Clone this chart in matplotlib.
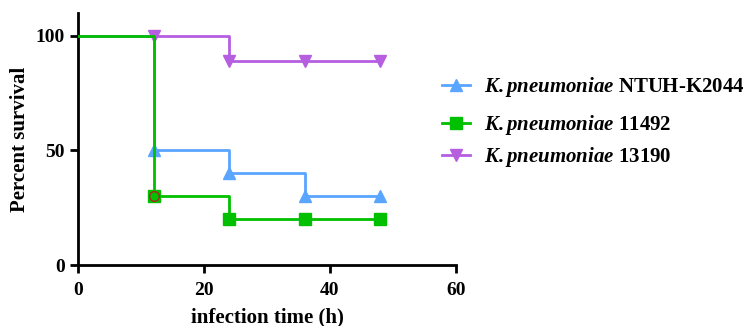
import matplotlib
matplotlib.use("Agg")
import matplotlib.pyplot as plt

plt.rcParams['font.family'] = ['Liberation Serif', 'DejaVu Serif']
plt.rcParams['mathtext.fontset'] = 'custom'
plt.rcParams['mathtext.bfit'] = 'Liberation Serif:italic:bold'
plt.rcParams['mathtext.bf'] = 'Liberation Serif:bold'
plt.rcParams['mathtext.it'] = 'Liberation Serif:italic'
plt.rcParams['mathtext.rm'] = 'Liberation Serif'

time = [0, 12, 24, 36, 48]
ntuh = [100, 50, 40, 30, 30]
s11492 = [100, 30, 20, 20, 20]
s13190 = [100, 100, 88.9, 88.9, 88.9]
labels = [r'$\mathbfit{K.pneumoniae}$ NTUH-K2044',
          r'$\mathbfit{K.pneumoniae}$ 11492',
          r'$\mathbfit{K.pneumoniae}$ 13190']

blue = '#5aa5ff'
green = '#00c000'
purple = '#b65ee0'

fig = plt.figure(figsize=(7.46, 3.26), dpi=100)
ax = fig.add_axes([78/746, 1-265/326, (456-78)/746, (265-13)/326])

ax.step(time, ntuh, where='post', color=blue, lw=2, zorder=2)
ax.plot(time[1:], ntuh[1:], '^', color=blue, ms=8, lw=0, zorder=3)
ax.step(time, s13190, where='post', color=purple, lw=2, zorder=2)
ax.plot(time[1:], s13190[1:], 'v', color=purple, ms=8, lw=0, zorder=3)
ax.step(time, s11492, where='post', color=green, lw=2, zorder=4)
ax.plot(time[1:], s11492[1:], 's', color=green, ms=8, lw=0, zorder=5)
ax.plot([time[1]], [s11492[1]], 'o', mfc=green, mec='#b22222', ms=7, mew=1, zorder=6)

ax.set_xlim(0, 60)
ax.set_ylim(0, 110)
ax.set_xticks([0, 20, 40, 60])
ax.set_yticks([0, 50, 100])
for s in ['top', 'right']:
    ax.spines[s].set_visible(False)
for s in ['left', 'bottom']:
    ax.spines[s].set_linewidth(2)
ax.tick_params(width=2, length=6, labelsize=14)
ax.tick_params(axis='x', pad=6)
for lab in ax.get_xticklabels() + ax.get_yticklabels():
    lab.set_fontweight('bold')
ax.set_xlabel('infection time (h)', fontsize=15, fontweight='bold', labelpad=6)
ax.set_ylabel('Percent survival', fontsize=15, fontweight='bold')

h1, = ax.plot([], [], '-^', color=blue, lw=2, ms=8)
h2, = ax.plot([], [], '-s', color=green, lw=2, ms=8)
h3, = ax.plot([], [], '-v', color=purple, lw=2, ms=8)
rows_y = [87, 125, 157]
for h, lab, yy in zip([h1, h2, h3], labels, rows_y):
    lg = fig.legend([h], [lab], loc='center left',
                    bbox_to_anchor=(442/746, 1-yy/326),
                    frameon=False, handlelength=1.35, handletextpad=0.65,
                    borderpad=0, borderaxespad=0,
                    prop={'weight': 'bold', 'size': 15})
fig.savefig('out.png', dpi=100)
